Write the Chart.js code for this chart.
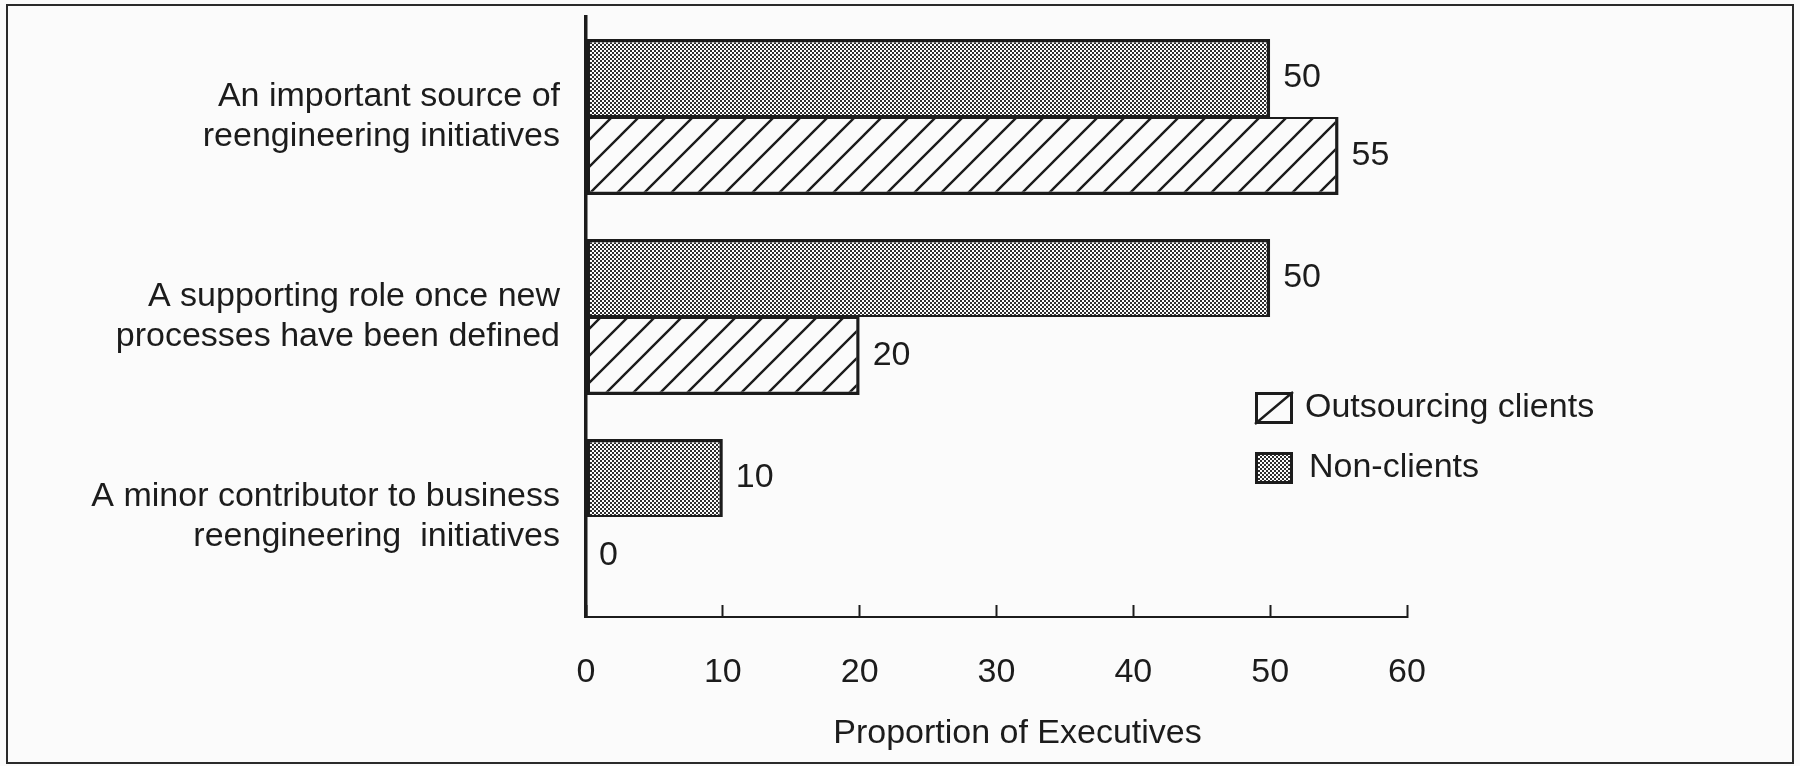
<!DOCTYPE html>
<html>
<head>
<meta charset="utf-8">
<script src="https://cdn.jsdelivr.net/npm/chart.js@4.4.1/dist/chart.umd.min.js"></script>
<style>
  html, body { margin: 0; padding: 0; background: #fbfbfb; }
  #wrap { width: 1800px; height: 766px; position: relative; }
</style>
</head>
<body>
<div id="wrap"><canvas id="c" width="1800" height="766"></canvas></div>
<script>
// Role of the IS function in reengineering, by group of executives
const categories = [
  ['An important source of', 'reengineering initiatives'],
  ['A supporting role once new', 'processes have been defined'],
  ['A minor contributor to business', 'reengineering  initiatives']
];
const seriesNames = ['Non-clients', 'Outsourcing clients'];
const nonClients = [50, 50, 10];
const outsourcingClients = [55, 20, 0];
const xMin = 0;
const xMax = 60;
const xStep = 10;
const axisTitle = 'Proportion of Executives';

const INK = '#1c1c1c';
const FAMILY = '"Liberation Sans", Arial, Helvetica, sans-serif';

// fine checkerboard stipple
function stipplePattern() {
  const c = document.createElement('canvas');
  c.width = 4; c.height = 4;
  const g = c.getContext('2d');
  g.fillStyle = '#fcfcfc';
  g.fillRect(0, 0, 4, 4);
  g.fillStyle = '#2e2e2e';
  g.fillRect(0, 0, 2, 2);
  g.fillRect(2, 2, 2, 2);
  return g.createPattern(c, 'repeat');
}

// white fill with "/" diagonal hatching
function hatchPattern() {
  const s = 27;
  const c = document.createElement('canvas');
  c.width = s; c.height = s;
  const g = c.getContext('2d');
  g.fillStyle = '#fbfbfb';
  g.fillRect(0, 0, s, s);
  g.strokeStyle = INK;
  g.lineWidth = 2.4;
  g.beginPath();
  g.moveTo(-2, s + 2); g.lineTo(s + 2, -2);
  g.moveTo(-4, 4); g.lineTo(4, -4);
  g.moveTo(s - 4, s + 4); g.lineTo(s + 4, s - 4);
  g.stroke();
  return g.createPattern(c, 'repeat');
}

const stipple = stipplePattern();
const hatch = hatchPattern();

const pageBackground = {
  id: 'pageBackground',
  beforeDraw(chart) {
    const ctx = chart.ctx;
    ctx.save();
    ctx.fillStyle = '#fbfbfb';
    ctx.fillRect(0, 0, chart.width, chart.height);
    ctx.restore();
  },
  afterDraw(chart) {
    const ctx = chart.ctx;
    ctx.save();
    ctx.strokeStyle = '#2a2a2a';
    ctx.lineWidth = 2;
    ctx.strokeRect(7, 5, chart.width - 14, chart.height - 8);
    ctx.restore();
  }
};

const valueLabels = {
  id: 'valueLabels',
  afterDatasetsDraw(chart) {
    const ctx = chart.ctx;
    ctx.save();
    ctx.font = '34px ' + FAMILY;
    ctx.fillStyle = INK;
    ctx.textAlign = 'left';
    ctx.textBaseline = 'middle';
    chart.data.datasets.forEach((ds, i) => {
      chart.getDatasetMeta(i).data.forEach((el, j) => {
        ctx.fillText(String(ds.data[j]), el.x + 13, el.y);
      });
    });
    ctx.restore();
  }
};

// legend box drawn inside the plot, outsourcing clients listed first
const insetLegend = {
  id: 'insetLegend',
  afterDraw(chart) {
    const ctx = chart.ctx;
    const area = chart.chartArea;
    const bx = area.left + 669;
    const rows = [1, 0];
    const boxW = 38, boxH = 32, rowGap = 60;
    const top = area.top + 375;
    ctx.save();
    ctx.font = '34px ' + FAMILY;
    ctx.textAlign = 'left';
    ctx.textBaseline = 'middle';
    rows.forEach((di, r) => {
      const ds = chart.data.datasets[di];
      const y = top + r * rowGap;
      if (di === 1) {
        ctx.fillStyle = '#fbfbfb';
        ctx.fillRect(bx, y, boxW, boxH);
        ctx.strokeStyle = INK;
        ctx.lineWidth = 2.4;
        ctx.beginPath();
        ctx.moveTo(bx, y + boxH);
        ctx.lineTo(bx + boxW, y);
        ctx.stroke();
      } else {
        ctx.fillStyle = ds.backgroundColor;
        ctx.fillRect(bx, y, boxW, boxH);
      }
      ctx.strokeStyle = INK;
      ctx.lineWidth = 3;
      ctx.strokeRect(bx + 1.5, y + 1.5, boxW - 3, boxH - 3);
      ctx.fillStyle = INK;
      ctx.fillText(ds.label, bx + boxW + 12 + (di === 0 ? 4 : 0), y + boxH / 2);
    });
    ctx.restore();
  }
};

// axis title sits a little right of the plot centre
const titleNudge = {
  id: 'titleNudge',
  afterLayout(chart) {
    const s = chart.scales.x;
    if (s._nudged) return;
    const orig = s.drawTitle;
    s.drawTitle = function () {
      const l = this.left, r = this.right;
      this.left += 21; this.right += 21;
      orig.call(this);
      this.left = l; this.right = r;
    };
    s._nudged = true;
  }
};

new Chart(document.getElementById('c'), {
  type: 'bar',
  data: {
    labels: categories,
    datasets: [
      {
        label: seriesNames[0],
        data: nonClients,
        backgroundColor: stipple,
        borderColor: INK,
        borderWidth: { top: 3.5, right: 3.5, bottom: 2, left: 3.5 },
        borderSkipped: false
      },
      {
        label: seriesNames[1],
        data: outsourcingClients,
        backgroundColor: hatch,
        borderColor: INK,
        borderWidth: { top: 2, right: 3.5, bottom: 3.5, left: 3.5 },
        borderSkipped: false
      }
    ]
  },
  options: {
    indexAxis: 'y',
    responsive: false,
    animation: false,
    devicePixelRatio: 1,
    datasets: { bar: { categoryPercentage: 0.78, barPercentage: 1 } },
    layout: { padding: { top: 17, right: 393, bottom: 0, left: 0 } },
    plugins: {
      legend: { display: false },
      tooltip: { enabled: false }
    },
    scales: {
      x: {
        min: xMin,
        max: xMax,
        ticks: {
          stepSize: xStep,
          color: INK,
          font: { family: FAMILY, size: 34 },
          padding: 47,
          maxRotation: 0
        },
        grid: {
          drawOnChartArea: false,
          drawTicks: true,
          tickLength: -12,
          tickWidth: 2,
          tickColor: INK
        },
        border: { color: INK, width: 2 },
        title: {
          display: true,
          text: axisTitle,
          color: INK,
          font: { family: FAMILY, size: 34 },
          padding: { top: 0, bottom: 12 }
        },
        afterFit(s) { s.height = 149; s.paddingLeft = 0; s.paddingRight = 0; }
      },
      y: {
        ticks: {
          color: INK,
          font: { family: FAMILY, size: 34, lineHeight: 40 / 34 },
          padding: 26
        },
        grid: { display: false, drawTicks: false },
        border: { color: INK, width: 3.5 },
        afterFit(s) { s.width = 586; s.paddingTop = 0; s.paddingBottom = 0; }
      }
    }
  },
  plugins: [pageBackground, valueLabels, insetLegend, titleNudge]
});
</script>
</body>
</html>
